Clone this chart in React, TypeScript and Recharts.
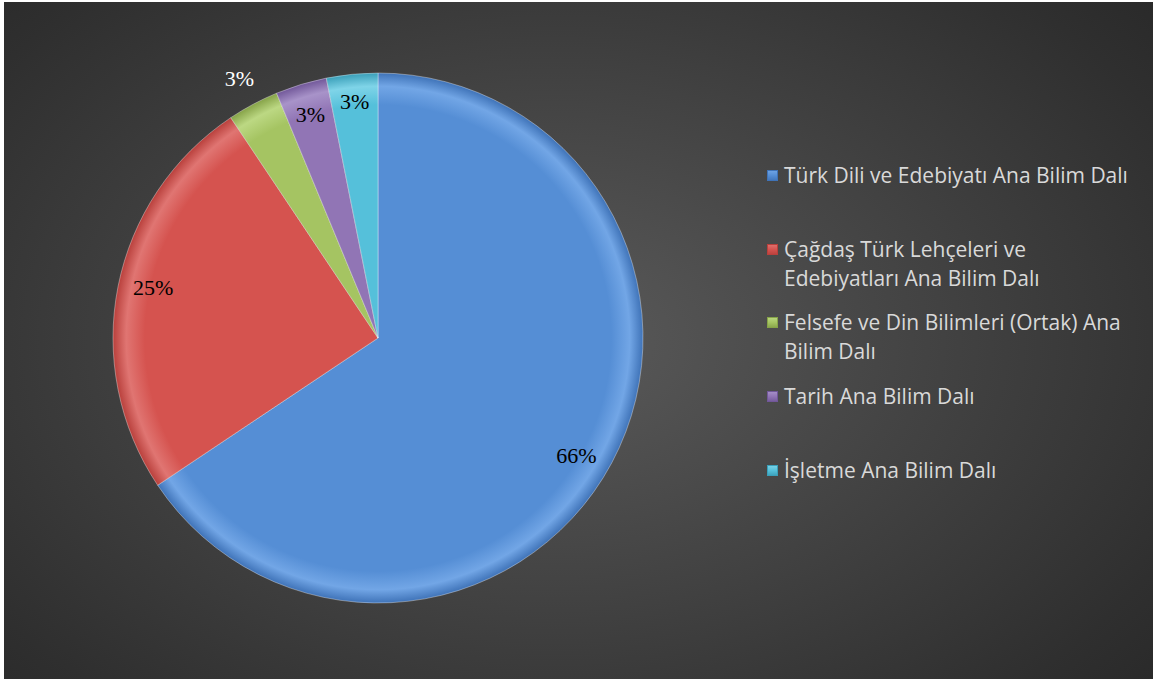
import React from "react";
import { PieChart, Pie, Cell, Legend } from "recharts";

const categories = [
  "Türk Dili ve Edebiyatı Ana Bilim Dalı",
  "Çağdaş Türk Lehçeleri ve Edebiyatları Ana Bilim Dalı",
  "Felsefe ve Din Bilimleri (Ortak) Ana Bilim Dalı",
  "Tarih Ana Bilim Dalı",
  "İşletme Ana Bilim Dalı",
];
const counts = [21, 8, 1, 1, 1];
const colors = ["#558ed5", "#d5534f", "#a5c462", "#9175b5", "#55c0da"];
const lightColors = ["#72a6e6", "#e07572", "#bcd883", "#a893c9", "#7fd4e8"];
const darkColors = ["#3f73b8", "#b9403c", "#86a348", "#715799", "#3a9fb9"];
const labelRadiusFactor = [0.87, 0.87, 1.11, 0.88, 0.895];
const labelAngleShift = [-2.5, -1.5, 0, 0, 0];
const labelColors = ["#000000", "#000000", "#ffffff", "#000000", "#000000"];

const W = 1149;
const H = 677;
const CX = 374;
const CY = 336;
const R = 265;

const data = categories.map((name, i) => ({ name, value: counts[i] }));
const total = counts.reduce((a, b) => a + b, 0);

const RAD = Math.PI / 180;

const renderLabel = (props: any) => {
  const { cx, cy, midAngle, outerRadius, index, value } = props;
  const r = outerRadius * labelRadiusFactor[index];
  const a = midAngle + labelAngleShift[index];
  const x = cx + r * Math.cos(-a * RAD);
  const y = cy + r * Math.sin(-a * RAD);
  return (
    <text
      x={x}
      y={y}
      fill={labelColors[index]}
      textAnchor="middle"
      dominantBaseline="central"
      fontFamily="'Liberation Serif', 'Times New Roman', serif"
      fontSize={22}
    >
      {`${Math.round((value / total) * 100)}%`}
    </text>
  );
};

const renderLegend = () => (
  <div style={{ width: 380 }}>
    {categories.map((name, i) => (
      <div
        key={name}
        style={{
          height: 73.7,
          display: "flex",
          alignItems: "flex-start",
        }}
      >
        <div
          style={{
            width: 11,
            height: 11,
            marginTop: 9,
            marginRight: 6,
            flexShrink: 0,
            background: `linear-gradient(180deg, ${lightColors[i]} 0%, ${colors[i]} 50%, ${darkColors[i]} 100%)`,
            boxShadow: `inset 0 0 0 1px ${darkColors[i]}`,
          }}
        />
        <div
          style={{
            width: 352,
            color: "#d9d9d9",
            fontFamily: "'Open Sans', sans-serif",
            fontSize: 21,
            lineHeight: "29px",
          }}
        >
          {name}
        </div>
      </div>
    ))}
  </div>
);

export default function App() {
  return (
    <div
      style={{
        position: "absolute",
        left: 4,
        top: 2,
        width: W,
        height: H,
        background:
          "radial-gradient(ellipse 75% 85% at 48% 50%, #5a5a5a 0%, #424242 45%, #2f2f2f 80%, #262626 100%)",
      }}
    >
      <PieChart width={W} height={H} margin={{ top: 0, right: 0, bottom: 0, left: 0 }}>
        <defs>
          {colors.map((c, i) => (
            <radialGradient
              key={i}
              id={`g${i}`}
              gradientUnits="userSpaceOnUse"
              cx={CX}
              cy={CY}
              r={R}
            >
              <stop offset="0%" stopColor={colors[i]} />
              <stop offset="88%" stopColor={colors[i]} />
              <stop offset="95%" stopColor={lightColors[i]} />
              <stop offset="100%" stopColor={darkColors[i]} />
            </radialGradient>
          ))}
        </defs>
        <Pie
          data={data}
          dataKey="value"
          nameKey="name"
          cx={CX}
          cy={CY}
          outerRadius={R}
          startAngle={90}
          endAngle={-270}
          stroke="rgba(255,255,255,0.35)"
          strokeWidth={1}
          label={renderLabel}
          labelLine={false}
          isAnimationActive={false}
        >
          {data.map((d, i) => (
            <Cell key={d.name} fill={`url(#g${i})`} />
          ))}
        </Pie>
        <Legend
          content={renderLegend}
          wrapperStyle={{ left: 763, top: 159, width: 390 }}
        />
      </PieChart>
    </div>
  );
}
